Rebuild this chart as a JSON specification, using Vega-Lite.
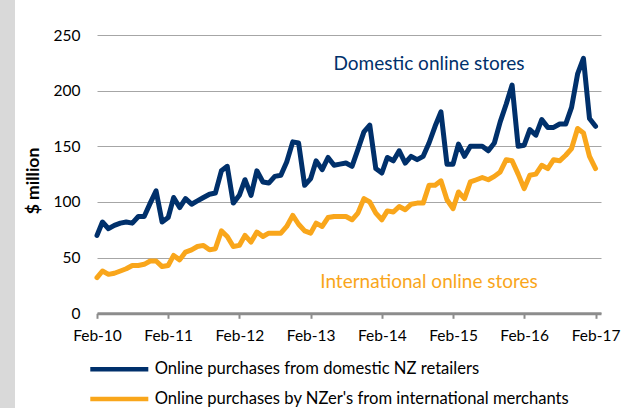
{
  "$schema": "https://vega.github.io/schema/vega-lite/v6.json",
  "width": 504,
  "height": 291,
  "autosize": {"type": "none"},
  "padding": {"left": 97, "top": 35, "right": 31, "bottom": 82},
  "background": "#d9d9d9",
  "config": {
    "view": {"stroke": "#ffffff", "strokeWidth": 164, "fill": "#ffffff"},
    "font": "Lato"
  },
  "datasets": {
    "series": [
      {"date": "2010-02-01", "domestic": 70, "international": 32},
      {"date": "2010-03-01", "domestic": 82, "international": 38},
      {"date": "2010-04-01", "domestic": 76, "international": 35},
      {"date": "2010-05-01", "domestic": 79, "international": 36},
      {"date": "2010-06-01", "domestic": 81, "international": 38},
      {"date": "2010-07-01", "domestic": 82, "international": 40},
      {"date": "2010-08-01", "domestic": 81, "international": 43},
      {"date": "2010-09-01", "domestic": 87, "international": 43},
      {"date": "2010-10-01", "domestic": 87, "international": 44},
      {"date": "2010-11-01", "domestic": 99, "international": 47},
      {"date": "2010-12-01", "domestic": 110, "international": 47},
      {"date": "2011-01-01", "domestic": 82, "international": 42},
      {"date": "2011-02-01", "domestic": 86, "international": 43},
      {"date": "2011-03-01", "domestic": 104, "international": 52},
      {"date": "2011-04-01", "domestic": 95, "international": 48},
      {"date": "2011-05-01", "domestic": 103, "international": 55},
      {"date": "2011-06-01", "domestic": 98, "international": 57},
      {"date": "2011-07-01", "domestic": 101, "international": 60},
      {"date": "2011-08-01", "domestic": 104, "international": 61},
      {"date": "2011-09-01", "domestic": 107, "international": 57},
      {"date": "2011-10-01", "domestic": 108, "international": 58},
      {"date": "2011-11-01", "domestic": 128, "international": 74},
      {"date": "2011-12-01", "domestic": 132, "international": 69},
      {"date": "2012-01-01", "domestic": 99, "international": 60},
      {"date": "2012-02-01", "domestic": 106, "international": 61},
      {"date": "2012-03-01", "domestic": 120, "international": 70},
      {"date": "2012-04-01", "domestic": 106, "international": 64},
      {"date": "2012-05-01", "domestic": 128, "international": 73},
      {"date": "2012-06-01", "domestic": 118, "international": 69},
      {"date": "2012-07-01", "domestic": 117, "international": 72},
      {"date": "2012-08-01", "domestic": 123, "international": 72},
      {"date": "2012-09-01", "domestic": 124, "international": 72},
      {"date": "2012-10-01", "domestic": 136, "international": 78},
      {"date": "2012-11-01", "domestic": 154, "international": 88},
      {"date": "2012-12-01", "domestic": 153, "international": 80},
      {"date": "2013-01-01", "domestic": 115, "international": 74},
      {"date": "2013-02-01", "domestic": 121, "international": 72},
      {"date": "2013-03-01", "domestic": 137, "international": 81},
      {"date": "2013-04-01", "domestic": 129, "international": 78},
      {"date": "2013-05-01", "domestic": 140, "international": 86},
      {"date": "2013-06-01", "domestic": 133, "international": 87},
      {"date": "2013-07-01", "domestic": 134, "international": 87},
      {"date": "2013-08-01", "domestic": 135, "international": 87},
      {"date": "2013-09-01", "domestic": 132, "international": 84},
      {"date": "2013-10-01", "domestic": 147, "international": 90},
      {"date": "2013-11-01", "domestic": 163, "international": 103},
      {"date": "2013-12-01", "domestic": 169, "international": 100},
      {"date": "2014-01-01", "domestic": 130, "international": 90},
      {"date": "2014-02-01", "domestic": 126, "international": 84},
      {"date": "2014-03-01", "domestic": 140, "international": 92},
      {"date": "2014-04-01", "domestic": 137, "international": 91},
      {"date": "2014-05-01", "domestic": 146, "international": 96},
      {"date": "2014-06-01", "domestic": 135, "international": 93},
      {"date": "2014-07-01", "domestic": 141, "international": 98},
      {"date": "2014-08-01", "domestic": 138, "international": 99},
      {"date": "2014-09-01", "domestic": 141, "international": 99},
      {"date": "2014-10-01", "domestic": 153, "international": 115},
      {"date": "2014-11-01", "domestic": 168, "international": 115},
      {"date": "2014-12-01", "domestic": 181, "international": 119},
      {"date": "2015-01-01", "domestic": 134, "international": 102},
      {"date": "2015-02-01", "domestic": 134, "international": 94},
      {"date": "2015-03-01", "domestic": 152, "international": 109},
      {"date": "2015-04-01", "domestic": 141, "international": 103},
      {"date": "2015-05-01", "domestic": 150, "international": 118},
      {"date": "2015-06-01", "domestic": 150, "international": 120},
      {"date": "2015-07-01", "domestic": 150, "international": 122},
      {"date": "2015-08-01", "domestic": 146, "international": 120},
      {"date": "2015-09-01", "domestic": 153, "international": 123},
      {"date": "2015-10-01", "domestic": 172, "international": 127},
      {"date": "2015-11-01", "domestic": 188, "international": 138},
      {"date": "2015-12-01", "domestic": 205, "international": 137},
      {"date": "2016-01-01", "domestic": 150, "international": 125},
      {"date": "2016-02-01", "domestic": 151, "international": 112},
      {"date": "2016-03-01", "domestic": 165, "international": 124},
      {"date": "2016-04-01", "domestic": 160, "international": 125},
      {"date": "2016-05-01", "domestic": 174, "international": 133},
      {"date": "2016-06-01", "domestic": 167, "international": 130},
      {"date": "2016-07-01", "domestic": 167, "international": 138},
      {"date": "2016-08-01", "domestic": 170, "international": 137},
      {"date": "2016-09-01", "domestic": 170, "international": 142},
      {"date": "2016-10-01", "domestic": 185, "international": 148},
      {"date": "2016-11-01", "domestic": 215, "international": 166},
      {"date": "2016-12-01", "domestic": 229, "international": 162},
      {"date": "2017-01-01", "domestic": 175, "international": 141},
      {"date": "2017-02-01", "domestic": 168, "international": 130}
    ],
    "notes": [
      {"date": "2014-10-01", "value": 224, "label": "Domestic online stores", "group": "domestic"},
      {"date": "2014-10-01", "value": 28, "label": "International online stores", "group": "international"}
    ]
  },
  "layer": [
    {
      "data": {"name": "series"},
      "transform": [{"fold": ["domestic", "international"], "as": ["series", "value"]}],
      "mark": {"type": "line", "strokeWidth": 5, "strokeJoin": "round", "strokeCap": "round"},
      "encoding": {
        "x": {
          "field": "date",
          "type": "temporal",
          "scale": {"type": "utc", "domain": [{"year": 2010, "month": 2, "date": 1, "utc": true}, {"year": 2017, "month": 3, "date": 1, "utc": true}]},
          "axis": {
            "title": null,
            "offset": -12.7,
            "values": [
              {"year": 2010, "month": 2, "date": 1, "utc": true},
              {"year": 2011, "month": 2, "date": 1, "utc": true},
              {"year": 2012, "month": 2, "date": 1, "utc": true},
              {"year": 2013, "month": 2, "date": 1, "utc": true},
              {"year": 2014, "month": 2, "date": 1, "utc": true},
              {"year": 2015, "month": 2, "date": 1, "utc": true},
              {"year": 2016, "month": 2, "date": 1, "utc": true},
              {"year": 2017, "month": 2, "date": 1, "utc": true}
            ],
            "labelExpr": "utcFormat(datum.value, '%b-%y')",
            "grid": false,
            "domainColor": "#8c8c8c",
            "domainWidth": 3,
            "tickColor": "#8c8c8c",
            "tickWidth": 2,
            "tickSize": 5,
            "labelFont": "Lato",
            "labelFontSize": 15.5,
            "labelColor": "#000000",
            "labelPadding": 10,
            "labelFlush": false,
            "labelOverlap": false
          }
        },
        "y": {
          "field": "value",
          "type": "quantitative",
          "scale": {"domain": [-11.4, 250], "nice": false, "zero": false},
          "axis": {
            "title": "$ million",
            "titleFont": "Lato",
            "titleFontSize": 17.5,
            "titleFontWeight": "bold",
            "titleColor": "#000000",
            "titlePadding": 11,
            "values": [0, 50, 100, 150, 200, 250],
            "domain": false,
            "ticks": false,
            "gridColor": "#a6a6a6",
            "gridWidth": 1,
            "labelFont": "Lato",
            "labelFontSize": 15.5,
            "labelColor": "#000000",
            "labelPadding": 17
          }
        },
        "color": {
          "field": "series",
          "type": "nominal",
          "scale": {"domain": ["domestic", "international"], "range": ["#00306b", "#f9a61b"]},
          "legend": {
            "title": null,
            "orient": "none",
            "legendX": 10.3,
            "legendY": 322.3,
            "padding": 0,
            "direction": "vertical",
            "symbolType": "M-3,0H3",
            "symbolSize": 374,
            "symbolStrokeWidth": 4.5,
            "labelFont": "Lato",
            "labelFontSize": 16.6,
            "labelColor": "#000000",
            "labelOffset": 23.4,
            "labelLimit": 600,
            "rowPadding": 8.7,
            "labelExpr": "datum.label == 'domestic' ? 'Online purchases from domestic NZ retailers' : 'Online purchases by NZer\\'s from international merchants'",
            "encoding": {"symbols": {"update": {"strokeCap": {"value": "round"}}}}
          }
        }
      }
    },
    {
      "data": {"name": "notes"},
      "mark": {"type": "text", "font": "Lato", "fontSize": 19, "align": "center", "baseline": "middle"},
      "encoding": {
        "x": {"field": "date", "type": "temporal"},
        "y": {"field": "value", "type": "quantitative"},
        "text": {"field": "label"},
        "color": {"field": "group", "type": "nominal", "legend": null}
      }
    }
  ]
}
